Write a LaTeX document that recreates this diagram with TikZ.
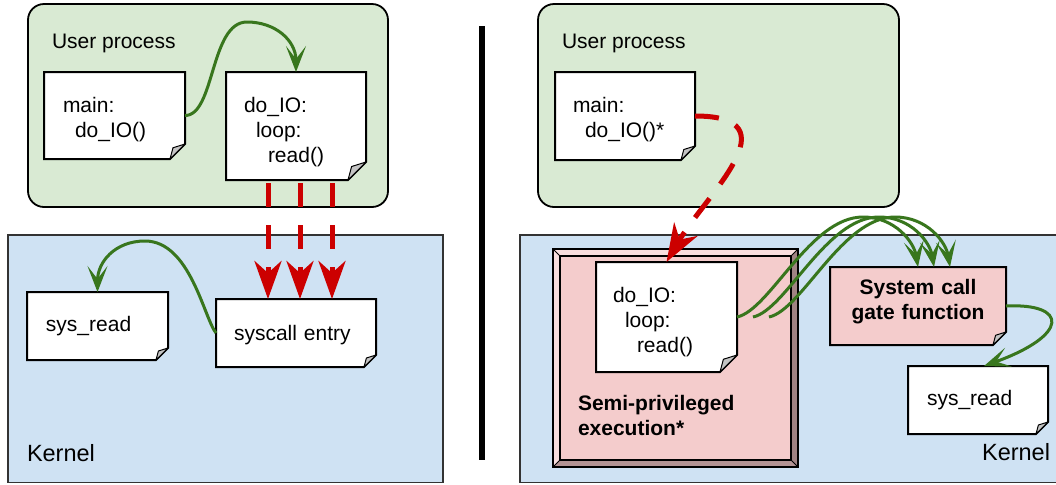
\documentclass[tikz,border=0pt]{standalone}
\usepackage{fontspec}
\setmainfont{Liberation Sans}
\usetikzlibrary{arrows.meta,calc}
\pgfdeclarelayer{bg}
\pgfdeclarelayer{notes}
\pgfsetlayers{bg,notes,main}
\definecolor{ugreen}{HTML}{D9EAD3}
\definecolor{kblue}{HTML}{CFE2F3}
\definecolor{apink}{HTML}{F4CCCC}
\definecolor{agreen}{HTML}{38761D}
\definecolor{ared}{HTML}{CC0000}
\definecolor{foldgray}{HTML}{C4C4C4}
\definecolor{bevlight}{HTML}{F9DEDE}
\definecolor{bevright}{HTML}{A08383}
\definecolor{bevbottom}{HTML}{B49494}
\newcommand\notebg[3]{%
  \begin{pgfonlayer}{notes}
    \filldraw[fill=#2, line width=1pt, line join=miter]
      (#1.north west) -- (#1.north east) -- ([yshift=#3]#1.south east)
      -- ([xshift=-#3]#1.south east) -- (#1.south west) -- cycle;
    \filldraw[fill=foldgray, line width=0.5pt, line join=round]
      ([yshift=#3]#1.south east) -- ([xshift={-0.8*#3}, yshift={0.75*#3}]#1.south east)
      -- ([xshift=-#3]#1.south east) -- cycle;
  \end{pgfonlayer}}
\newcommand\topstrut[1]{\rule{0pt}{#1}}
\tikzset{
  notetext/.style={rectangle, anchor=north west, outer sep=0pt, inner ysep=0pt,
    align=left, font=\fontsize{10.5}{12.5}\selectfont},
  lbl/.style={font=\fontsize{10.5}{12.5}\selectfont, inner sep=0pt, outer sep=0pt},
  kern/.style={font=\fontsize{11.75}{14}\selectfont, inner sep=0pt, outer sep=0pt},
  garrow/.style={draw=agreen, line width=1.5pt,
    -{Stealth[length=13pt,width=10pt,inset=6.5pt]}},
  rarrow/.style={draw=ared, line width=2.5pt, dash pattern=on 12pt off 9pt,
    -{Stealth[length=19pt,width=13.5pt,inset=6pt]}},
  userbox/.style={fill=ugreen, draw=black, line width=0.9pt, rounded corners=8pt},
  kernbox/.style={fill=kblue, draw=black!80, line width=0.75pt},
}
\begin{document}
\begin{tikzpicture}[x=0.5pt,y=-0.5pt]
\useasboundingbox (0,0) rectangle (1056,484);

% containers
\begin{pgfonlayer}{bg}
  \fill[white] (0,0) rectangle (1056,484);
  \draw[userbox] (28,4) rectangle (388,207);
  \draw[userbox] (538,4) rectangle (899,207);
  \draw[kernbox] (8,235) rectangle (443,482.5);
  \draw[kernbox] (520,235) rectangle (1064,482.5);
  % semi-privileged bevelled frame
  \fill[bevlight] (553,249) -- (798,249) -- (791,256) -- (560,256) -- cycle;
  \fill[bevlight] (553,249) -- (560,256) -- (560,460) -- (553,467) -- cycle;
  \fill[bevright] (798,249) -- (798,467) -- (791,460) -- (791,256) -- cycle;
  \fill[bevbottom] (553,467) -- (798,467) -- (791,460) -- (560,460) -- cycle;
  \fill[apink] (560,256) rectangle (791,460);
  \draw[line width=0.9pt] (553,249) rectangle (798,467);
  \draw[line width=0.9pt] (560,256) rectangle (791,460);
  \draw[line width=0.5pt] (553,249) -- (560,256) (798,249) -- (791,256)
    (553,467) -- (560,460) (798,467) -- (791,460);
\end{pgfonlayer}

\draw[line width=3pt] (482,26) -- (482,460);

% labels
\node[lbl, anchor=west] (lup) at (52,43) {User process};
\node[lbl, anchor=west] (rup) at (562,43) {User process};
\node[kern, anchor=west] (lkern) at (27,453) {Kernel};
\node[kern, anchor=east] (rkern) at (1050,452) {Kernel};
\node[lbl, anchor=west, align=left, font=\fontsize{10.5}{12.5}\selectfont\bfseries]
  (semilbl) at (578,415) {Semi-privileged\\execution*};

% note boxes
\node[notetext, inner xsep=9.5pt, text width=51.5pt, minimum width=70.5pt, minimum height=43.5pt]
  (lmain) at (44,72) {\topstrut{11.6pt}main:\\\hspace*{6pt}do\_IO()};
\node[notetext, inner xsep=9pt, text width=52pt, minimum width=70pt, minimum height=54pt]
  (ldoio) at (226,72) {\topstrut{13.6pt}do\_IO:\\\hspace*{6pt}loop:\\\hspace*{12pt}read()};
\node[notetext, inner xsep=9.5pt, text width=51.5pt, minimum width=70.5pt, minimum height=34pt]
  (lsysread) at (27,292) {sys\_read};
\node[notetext, inner xsep=9pt, text width=62pt, minimum width=80pt, minimum height=34pt]
  (lsyscall) at (216,299) {\topstrut{9.6pt}syscall entry};
\node[notetext, inner xsep=9pt, text width=52pt, minimum width=70pt, minimum height=44pt]
  (rmain) at (555,72) {\topstrut{11.6pt}main:\\\hspace*{6pt}do\_IO()*};
\node[notetext, inner xsep=8.5pt, text width=53.5pt, minimum width=70.5pt, minimum height=55pt]
  (rdoio) at (596,262) {\topstrut{12.6pt}do\_IO:\\\hspace*{6pt}loop:\\\hspace*{12pt}read()};
\node[notetext, inner xsep=0pt, text width=88pt, minimum width=88pt, minimum height=39pt,
  align=center, font=\fontsize{10.5}{12.5}\selectfont\bfseries]
  (gate) at (830,267) {System call\\gate function\rule[-6.2pt]{0pt}{1pt}};
\node[notetext, inner xsep=9.5pt, text width=51pt, minimum width=70pt, minimum height=34pt]
  (rsysread) at (908,366) {sys\_read};

\notebg{lmain}{white}{7.5pt}
\notebg{ldoio}{white}{9pt}
\notebg{lsysread}{white}{6pt}
\notebg{lsyscall}{white}{6pt}
\notebg{rmain}{white}{7pt}
\notebg{rdoio}{white}{8.5pt}
\notebg{gate}{apink}{6.5pt}
\notebg{rsysread}{white}{6pt}

% left connectors
\coordinate (lpeak) at (247,22);
\draw[garrow] (lmain.east) .. controls +(30,0) and +(-37,0) .. (lpeak)
  .. controls +(28,0) and +(0,-32) .. (ldoio.north);
\foreach \dx in {42,74,106}
  \draw[rarrow] ($(ldoio.south west)+(\dx,3)$) -- ($(lsyscall.north west)+(\dx+10,0)$);
\coordinate (kpeak) at (145,241);
\draw[garrow] (lsyscall.west) .. controls +(-12,-15) and +(45,0) .. (kpeak)
  .. controls +(-30,0) and +(0,-30) .. (lsysread.north);

% right connectors
\draw[rarrow] (rmain.east) .. controls +(100,0) and +(40,-68) .. (rdoio.north);
\coordinate (gpeak) at (863,217);
\foreach \dx in {0,16,32}
  \draw[garrow] ($(rdoio.east)+(\dx,0)$) .. controls +(33,-7) and +(-53,0) .. ($(gpeak)+(\dx,0)$)
    .. controls +(32,0) and +(-4,-25) .. ($(gate.north)+(\dx,0)$);
\draw[garrow] (gate.east) .. controls +(62,-3) and +(86,-31) .. ($(rsysread.north)+(6,0)$);
\end{tikzpicture}
\end{document}
